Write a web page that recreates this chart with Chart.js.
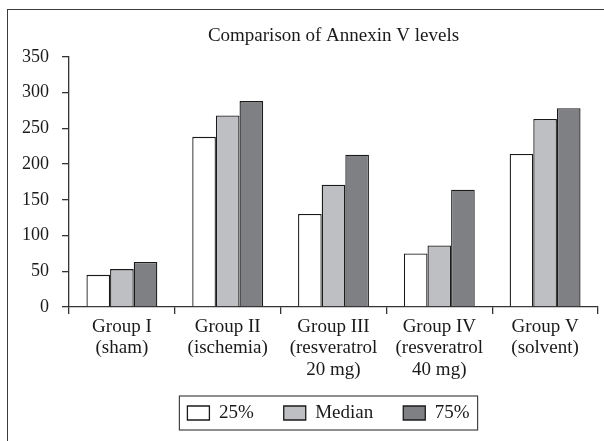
<!DOCTYPE html>
<html>
<head>
<meta charset="utf-8">
<script src="https://cdn.jsdelivr.net/npm/chart.js@4"></script>
<style>
  html, body { margin: 0; padding: 0; background: #fff; overflow: hidden; }
  #wrap { position: relative; width: 604px; height: 441px; }
  #frame {
    position: absolute; left: 7px; top: 9px; width: 700px; height: 500px;
    border: 1px solid #3c3c3c;
  }
  #chart { position: absolute; left: 0; top: 0; }
</style>
</head>
<body>
<div id="wrap">
  <div id="frame"></div>
  <canvas id="chart" width="604" height="441"></canvas>
</div>
<script>
const groups = [
  ["Group I", "(sham)"],
  ["Group II", "(ischemia)"],
  ["Group III", "(resveratrol", "20 mg)"],
  ["Group IV", "(resveratrol", "40 mg)"],
  ["Group V", "(solvent)"],
];
const q25 = [45, 238, 130, 75, 214];
const median = [53, 268, 171, 86, 263];
const q75 = [63, 288, 213, 164, 278];
const yTicks = [0, 50, 100, 150, 200, 250, 300, 350];

const FONT = "'Liberation Serif', 'Times New Roman', serif";
const INK = "#1a1a1a";

// move the legend to where the reference has it and draw its box
const legendBox = {
  id: "legendBox",
  afterLayout(chart) {
    const lg = chart.legend;
    const h = lg.height;
    lg.left -= 5;
    lg.right -= 5;
    lg.top = 413 - 9.5 - lg.options.labels.padding;
    lg.bottom = lg.top + h;
  },
  afterDraw(chart) {
    const boxes = chart.legend.legendHitBoxes;
    if (!boxes || !boxes.length) return;
    const first = boxes[0];
    const last = boxes[boxes.length - 1];
    const cy = first.top + first.height / 2;
    const ctx = chart.ctx;
    ctx.save();
    ctx.strokeStyle = "#444";
    ctx.lineWidth = 1.2;
    ctx.strokeRect(first.left - 8, cy - 17, last.left + last.width - first.left + 16, 34);
    ctx.restore();
  },
};

new Chart(document.getElementById("chart"), {
  type: "bar",
  data: {
    labels: groups,
    datasets: [
      { label: "25%", data: q25, backgroundColor: "#ffffff", borderColor: INK, borderWidth: 1.3 },
      { label: "Median", data: median, backgroundColor: "#bebfc3", borderColor: INK, borderWidth: 1.3 },
      { label: "75%", data: q75, backgroundColor: "#7f8084", borderColor: INK, borderWidth: 1.3 },
    ],
  },
  options: {
    responsive: false,
    animation: false,
    layout: { padding: { left: 22, right: 6, top: 0, bottom: 0 } },
    datasets: { bar: { categoryPercentage: 0.67, barPercentage: 1.0 } },
    plugins: {
      title: {
        display: true,
        text: "Comparison of Annexin V levels",
        fullSize: false,
        color: INK,
        font: { family: FONT, size: 19, weight: "normal" },
        padding: { top: 25, bottom: 9 },
      },
      legend: {
        position: "bottom",
        fullSize: false,
        labels: {
          color: INK,
          font: { family: FONT, size: 19 },
          boxWidth: 22,
          boxHeight: 14,
          padding: 30,
        },
      },
      tooltip: { enabled: false },
    },
    scales: {
      x: {
        grid: { drawOnChartArea: false, tickLength: 7, color: "#333", lineWidth: 1.3 },
        border: { color: "#333", width: 1.3 },
        ticks: {
          color: INK,
          padding: 2,
          maxRotation: 0,
          autoSkip: false,
          font: { family: FONT, size: 19, lineHeight: 1.14 },
        },
        afterFit: (s) => { s.height = 75; },
      },
      y: {
        min: 0,
        max: 350,
        afterBuildTicks: (s) => { s.ticks = yTicks.map((v) => ({ value: v })); },
        grid: { drawOnChartArea: false, tickLength: 7, color: "#333", lineWidth: 1.3 },
        border: { color: "#333", width: 1.3 },
        ticks: {
          color: INK,
          padding: 13,
          font: { family: FONT, size: 18 },
        },
        afterFit: (s) => { s.width = 47; },
      },
    },
  },
  plugins: [legendBox],
});
</script>
</body>
</html>
